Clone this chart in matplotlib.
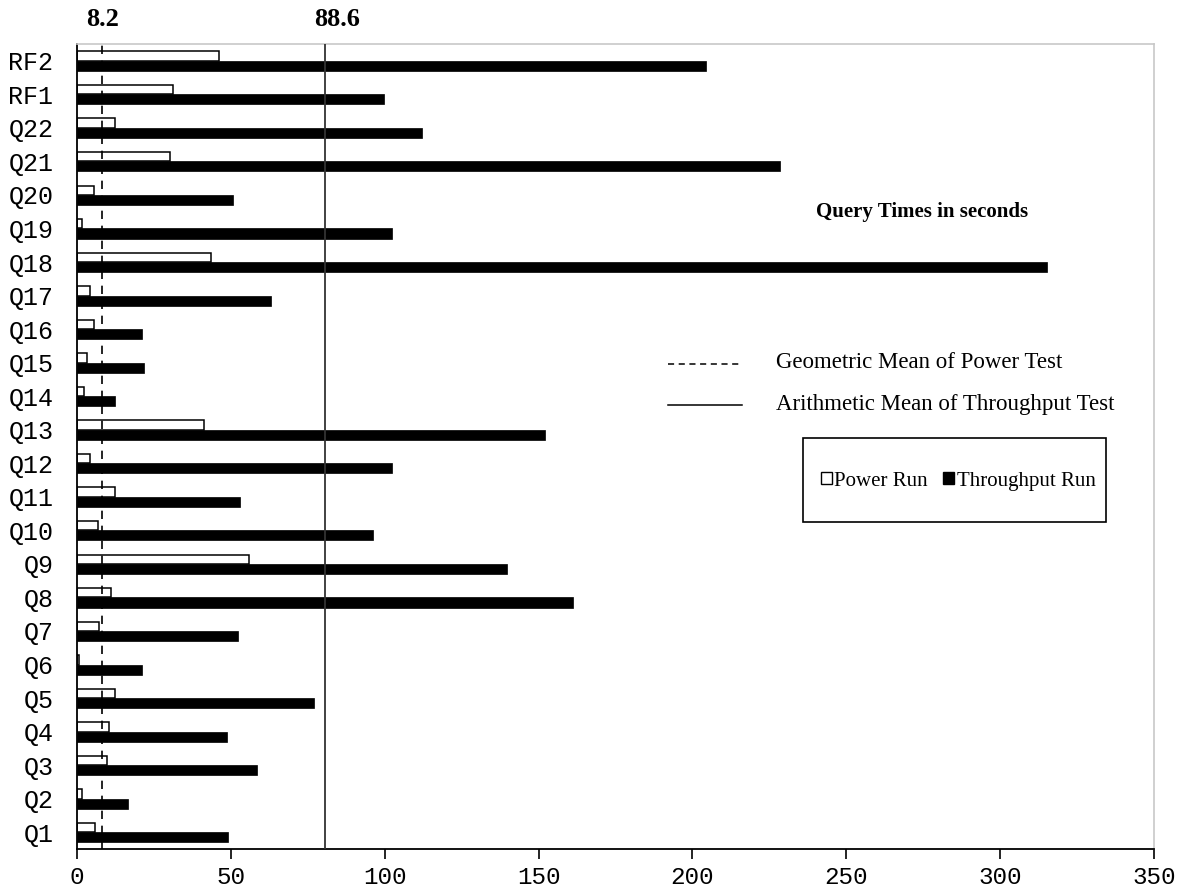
import matplotlib
matplotlib.use("Agg")
import matplotlib.pyplot as plt
from matplotlib.patches import Rectangle, Patch
from matplotlib.lines import Line2D

categories = ["Q1", "Q2", "Q3", "Q4", "Q5", "Q6", "Q7", "Q8", "Q9", "Q10", "Q11", "Q12",
              "Q13", "Q14", "Q15", "Q16", "Q17", "Q18", "Q19", "Q20", "Q21", "Q22", "RF1", "RF2"]
power_run = [5.8, 1.7, 9.8, 10.5, 12.3, 0.6, 7.2, 11.0, 55.9, 6.7, 12.3, 4.2,
             41.2, 2.4, 3.1, 5.5, 4.2, 43.7, 1.7, 5.5, 30.2, 12.3, 31.2, 46.0]
throughput_run = [49.0, 16.6, 58.6, 48.8, 77.1, 21.2, 52.4, 161.3, 139.9, 96.1, 53.1, 102.3,
                  152.1, 12.4, 21.7, 21.2, 62.9, 315.3, 102.3, 50.7, 228.5, 112.1, 99.9, 204.4]
geo_mean_pos = 8.2
geo_mean_label = "8.2"
arith_mean_pos = 80.5
arith_mean_label = "88.6"
xticks = [0, 50, 100, 150, 200, 250, 300, 350]

W, H = 1185, 888
fig = plt.figure(figsize=(W / 100, H / 100), dpi=100)
ax = fig.add_axes([77 / W, 1 - 849 / H, (1154 - 77) / W, (849 - 44) / H])

ys = list(range(len(categories)))
ax.barh([y + 0.14 for y in ys], power_run, height=0.28, color="white",
        edgecolor="black", linewidth=1.1, zorder=2)
ax.barh([y - 0.15 for y in ys], throughput_run, height=0.30, color="black",
        edgecolor="black", linewidth=0.5, zorder=2)

ax.axvline(geo_mean_pos, color="black", linestyle=(0, (5, 4)), linewidth=1.2, zorder=3)
ax.axvline(arith_mean_pos, color="#333333", linestyle="-", linewidth=1.3, zorder=3)

serif = ["Liberation Serif", "DejaVu Serif"]
mono = ["Liberation Mono", "DejaVu Sans Mono"]

ax.text(geo_mean_pos, 1.03, geo_mean_label, transform=ax.get_xaxis_transform(),
        ha="center", va="center", fontsize=19, fontweight="bold", family=serif)
ax.text(arith_mean_pos + 4, 1.03, arith_mean_label, transform=ax.get_xaxis_transform(),
        ha="center", va="center", fontsize=19, fontweight="bold", family=serif)

ax.set_xlim(0, 350)
ax.set_ylim(-0.5, len(categories) - 0.5)
ax.set_xticks(xticks)
ax.set_xticklabels([str(t) for t in xticks], family=mono, fontsize=17.5)
ax.set_yticks(ys)
ax.set_yticklabels(categories, family=mono, fontsize=18)
ax.tick_params(axis="y", length=0, pad=17)
ax.tick_params(axis="x", length=7, width=1.2, direction="out", pad=5)
for lbl in ax.get_yticklabels():
    lbl.set_y(lbl.get_position()[1])

for s in ["left", "bottom"]:
    ax.spines[s].set_color("black")
    ax.spines[s].set_linewidth(1.3)
for s in ["top", "right"]:
    ax.spines[s].set_color("#c8c8c8")
    ax.spines[s].set_linewidth(1.2)

# Title-like annotation
fig.text(922 / W, 1 - 212 / H, "Query Times in seconds", ha="center", va="center",
         fontsize=15, fontweight="bold", family=serif)

# Mean lines legend
fig.add_artist(Line2D([668 / W, 742 / W], [1 - 364 / H] * 2, transform=fig.transFigure,
                      color="black", linestyle=(0, (4, 3)), linewidth=1.1))
fig.add_artist(Line2D([668 / W, 742 / W], [1 - 405 / H] * 2, transform=fig.transFigure,
                      color="black", linestyle="-", linewidth=1.1))
fig.text(776 / W, 1 - 363 / H, "Geometric Mean of Power Test", ha="left", va="center",
         fontsize=16.5, family=serif)
fig.text(776 / W, 1 - 404 / H, "Arithmetic Mean of Throughput Test", ha="left", va="center",
         fontsize=16.5, family=serif)

# Bar legend box
fig.add_artist(Rectangle((803 / W, 1 - 522 / H), (1106 - 803) / W, (522 - 438) / H,
                         transform=fig.transFigure, fill=False, edgecolor="black", linewidth=1.2))
handles = [Patch(facecolor="white", edgecolor="black", linewidth=1.0, label="Power Run"),
           Patch(facecolor="black", edgecolor="black", label="Throughput Run")]
fig.legend(handles=handles, loc="center", bbox_to_anchor=(958 / W, 1 - 481 / H), ncol=2,
           frameon=False, handlelength=0.55, handleheight=0.55, handletextpad=0.12,
           columnspacing=0.7, prop={"family": serif, "size": 15})

fig.savefig("out.png", dpi=100)
